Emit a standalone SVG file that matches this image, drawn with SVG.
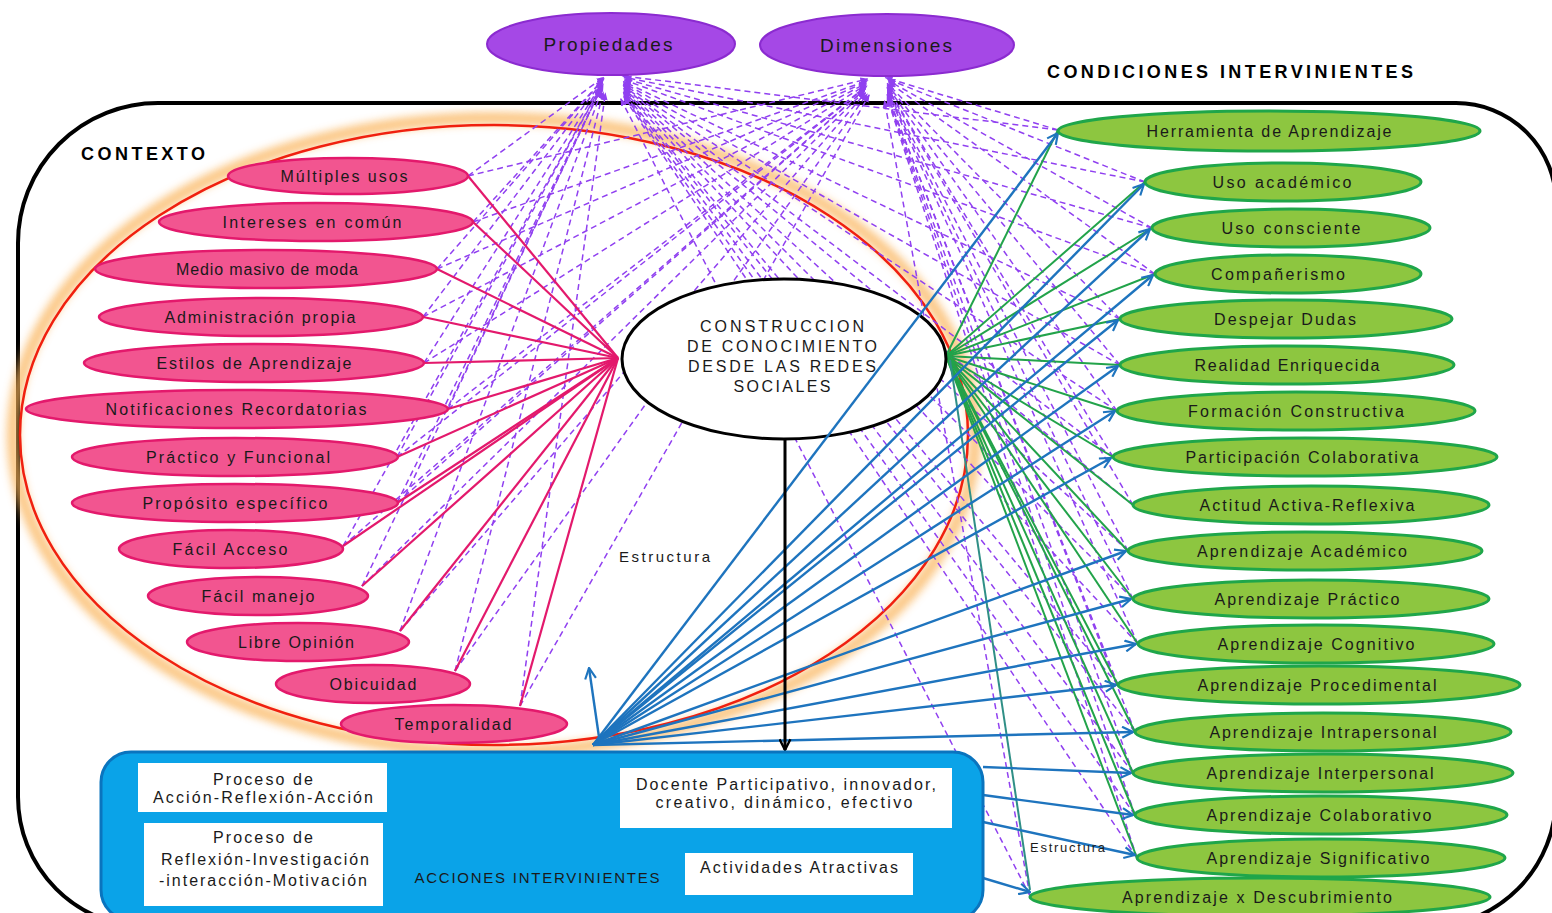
<svg xmlns="http://www.w3.org/2000/svg" width="1552" height="913" viewBox="0 0 1552 913">
<style>
.t{font-family:"Liberation Sans",Arial,sans-serif;font-size:16px;fill:#1a1a1a;text-anchor:middle}
.pk{fill:#F25590;stroke:#E3196C;stroke-width:2.5}
.gr{fill:#8DC640;stroke:#1FA64A;stroke-width:3}
.pu{fill:#A548E6;stroke:#8B2BD0;stroke-width:2}
.wb{fill:#ffffff}
.pl{stroke:#E3196C;stroke-width:2.2;fill:none}
.gl{stroke:#22A34A;stroke-width:2;fill:none}
.bl{stroke:#1E74BE;stroke-width:2.4;fill:none;marker-end:url(#ab)}
.dl{stroke:#9040F0;stroke-width:1.5;fill:none;stroke-dasharray:6 4;marker-end:url(#ap)}
</style>
<defs>
<marker id="ab" viewBox="0 0 12 12" refX="11" refY="6" markerWidth="13" markerHeight="13" markerUnits="userSpaceOnUse" orient="auto"><path d="M1,1 L11,6 L1,11" fill="none" stroke="#1E74BE" stroke-width="2"/></marker>
<marker id="ap" viewBox="0 0 10 10" refX="9" refY="5" markerWidth="8" markerHeight="8" markerUnits="userSpaceOnUse" orient="auto"><path d="M0,1 L10,5 L0,9 z" fill="#9040F0"/></marker>
<marker id="ak" viewBox="0 0 12 12" refX="11" refY="6" markerWidth="13" markerHeight="13" markerUnits="userSpaceOnUse" orient="auto"><path d="M1,1 L11,6 L1,11" fill="none" stroke="#000" stroke-width="2.2"/></marker>
<filter id="blur" x="-10%" y="-10%" width="120%" height="120%"><feGaussianBlur stdDeviation="4"/></filter>
</defs>
<rect width="1552" height="913" fill="#ffffff"/>
<path d="M158,103 H1456 A100,100 0 0 1 1556,203 V797 A130,130 0 0 1 1426,927 H148 A130,130 0 0 1 18,797 V243 A140,140 0 0 1 158,103 Z" fill="none" stroke="#000" stroke-width="4"/>
<ellipse cx="494" cy="435" rx="481" ry="317" fill="none" stroke="#FAB45A" stroke-width="12" opacity="0.75" filter="url(#blur)"/>
<ellipse cx="494" cy="435" rx="474" ry="310" fill="none" stroke="#F0200F" stroke-width="2.5"/>
<text x="81" y="160" style="font-family:'Liberation Sans',Arial,sans-serif;font-size:18px;font-weight:bold;fill:#000" textLength="124">CONTEXTO</text>
<text x="1047" y="78" style="font-family:'Liberation Sans',Arial,sans-serif;font-size:18px;font-weight:bold;fill:#000" textLength="366">CONDICIONES  INTERVINIENTES</text>
<g id="connectors">
<g id="dashed">
<path class="dl" d="M468,176 L603.8,77.1"/><path class="dl" d="M473,222 L604,78.4"/><path class="dl" d="M437,269 L602.9,79.9"/><path class="dl" d="M423,317 L602.5,81.3"/><path class="dl" d="M424,363 L602.5,82.7"/><path class="dl" d="M448,409 L603.2,84"/><path class="dl" d="M397,457 L601.7,85.5"/><path class="dl" d="M397,503 L601.7,86.9"/><path class="dl" d="M343,546 L600,88.2"/><path class="dl" d="M362,586 L600.6,89.4"/><path class="dl" d="M400,631 L601.8,90.7"/><path class="dl" d="M455,671 L603.4,91.9"/><path class="dl" d="M520,706 L605.4,93"/>
<path class="dl" d="M1058,130 L621.5,75.7"/><path class="dl" d="M1145,182 L624.1,77.2"/><path class="dl" d="M1152,228 L624.3,78.6"/><path class="dl" d="M1155,274 L624.4,80"/><path class="dl" d="M1120,319 L623.4,81.4"/><path class="dl" d="M1120,365 L623.4,82.7"/><path class="dl" d="M1117,411 L623.3,84.1"/><path class="dl" d="M1113,457 L623.2,85.5"/><path class="dl" d="M1133,505 L623.8,86.9"/><path class="dl" d="M1128,551 L623.6,88.3"/><path class="dl" d="M1133,599 L623.8,89.8"/><path class="dl" d="M1138,644 L623.9,91.1"/><path class="dl" d="M1118,685 L623.3,92.3"/><path class="dl" d="M1135,732 L623.8,93.7"/><path class="dl" d="M1133,773 L623.8,95"/><path class="dl" d="M1135,815 L623.8,96.2"/><path class="dl" d="M1137,858 L623.9,97.5"/><path class="dl" d="M1030,896 L620.7,98.7"/>
<path class="dl" d="M468,176 L867.6,79"/><path class="dl" d="M473,222 L867.8,80.4"/><path class="dl" d="M437,269 L866.7,81.8"/><path class="dl" d="M423,317 L866.3,83.2"/><path class="dl" d="M424,363 L866.3,84.6"/><path class="dl" d="M448,409 L867,86"/><path class="dl" d="M397,457 L865.5,87.4"/><path class="dl" d="M397,503 L865.5,88.8"/><path class="dl" d="M343,546 L863.9,90.1"/><path class="dl" d="M362,586 L864.5,91.3"/><path class="dl" d="M400,631 L865.6,92.7"/><path class="dl" d="M455,671 L867.3,93.9"/><path class="dl" d="M520,706 L869.2,94.9"/>
<path class="dl" d="M1058,130 L885.3,77.6"/><path class="dl" d="M1145,182 L888,79.2"/><path class="dl" d="M1152,228 L888.2,80.6"/><path class="dl" d="M1155,274 L888.3,81.9"/><path class="dl" d="M1120,319 L887.2,83.3"/><path class="dl" d="M1120,365 L887.2,84.7"/><path class="dl" d="M1117,411 L887.1,86.1"/><path class="dl" d="M1113,457 L887,87.4"/><path class="dl" d="M1133,505 L887.6,88.9"/><path class="dl" d="M1128,551 L887.4,90.3"/><path class="dl" d="M1133,599 L887.6,91.7"/><path class="dl" d="M1138,644 L887.7,93"/><path class="dl" d="M1118,685 L887.1,94.3"/><path class="dl" d="M1135,732 L887.7,95.7"/><path class="dl" d="M1133,773 L887.6,96.9"/><path class="dl" d="M1135,815 L887.7,98.2"/><path class="dl" d="M1137,858 L887.7,99.5"/><path class="dl" d="M1030,896 L884.5,100.6"/>
</g>
<g id="pink-lines">
<path class="pl" d="M468,176 L618,358"/><path class="pl" d="M473,222 L618,358"/><path class="pl" d="M437,269 L618,358"/><path class="pl" d="M423,317 L618,358"/><path class="pl" d="M424,363 L618,358"/><path class="pl" d="M448,409 L618,358"/><path class="pl" d="M397,457 L618,358"/><path class="pl" d="M397,503 L618,358"/><path class="pl" d="M343,546 L618,358"/><path class="pl" d="M362,586 L618,358"/><path class="pl" d="M400,631 L618,358"/><path class="pl" d="M455,671 L618,358"/><path class="pl" d="M520,706 L618,358"/>
</g>
<g id="green-lines">
<path class="gl" d="M946,356 L1058,130"/><path class="gl" d="M946,356 L1145,182"/><path class="gl" d="M946,356 L1152,228"/><path class="gl" d="M946,356 L1155,274"/><path class="gl" d="M946,356 L1120,319"/><path class="gl" d="M946,356 L1120,365"/><path class="gl" d="M946,356 L1117,411"/><path class="gl" d="M946,356 L1113,457"/><path class="gl" d="M946,356 L1133,505"/><path class="gl" d="M946,356 L1128,551"/><path class="gl" d="M946,356 L1133,599"/><path class="gl" d="M946,356 L1138,644"/><path class="gl" d="M946,356 L1118,685"/><path class="gl" d="M946,356 L1135,732"/><path class="gl" d="M946,356 L1133,773"/><path class="gl" d="M946,356 L1135,815"/><path class="gl" d="M946,356 L1137,858"/><path d="M950,360 L1030,890" stroke="#2F8F86" stroke-width="2" fill="none"/>
</g>
</g>
<g id="n-centro"><ellipse cx="784" cy="359" rx="162" ry="80" fill="#fff" stroke="#000" stroke-width="3"/>
<text class="t" x="782" y="332" textLength="164">CONSTRUCCION</text>
<text class="t" x="782" y="352" textLength="190">DE CONOCIMIENTO</text>
<text class="t" x="782" y="372" textLength="188">DESDE LAS REDES</text>
<text class="t" x="782" y="392" textLength="97">SOCIALES</text></g>
<g id="blue-arrows">
<path class="bl" d="M593,745 L1058,133"/><path class="bl" d="M593,745 L1144,184"/><path class="bl" d="M593,745 L1150,229"/><path class="bl" d="M593,745 L1153,275"/><path class="bl" d="M593,745 L1118,320"/><path class="bl" d="M593,745 L1118,366"/><path class="bl" d="M593,745 L1115,411"/><path class="bl" d="M593,745 L1111,458"/><path class="bl" d="M593,745 L1126,551"/><path class="bl" d="M593,745 L1131,599"/><path class="bl" d="M593,745 L1136,644"/><path class="bl" d="M593,745 L1116,685"/><path class="bl" d="M593,745 L1133,732"/>
<path class="bl" d="M600,744 L589,668"/>
<path class="bl" d="M983,767 L1131,773"/><path class="bl" d="M983,795 L1133,815"/><path class="bl" d="M983,822 L1135,855"/><path class="bl" d="M983,878 L1030,892"/>
</g>
<path id="black-arrow" d="M785,440 L785,750" stroke="#000" stroke-width="3" fill="none" marker-end="url(#ak)"/>
<text class="t" x="619" y="562" style="text-anchor:start;font-size:15px" textLength="91">Estructura</text>
<text class="t" x="1030" y="852" style="text-anchor:start;font-size:13px" textLength="75">Estructura</text>
<g id="n-propiedades"><ellipse class="pu" cx="611" cy="44" rx="124" ry="31"/><text class="t" x="608" y="51" style="font-size:19px" textLength="129">Propiedades</text></g>
<g id="n-dimensiones"><ellipse class="pu" cx="887" cy="45" rx="127" ry="31"/><text class="t" x="886" y="52" style="font-size:19px" textLength="132">Dimensiones</text></g>
<g id="n-p1"><ellipse class="pk" cx="348" cy="176" rx="120" ry="18"/><text class="t" x="344" y="182" textLength="127">Múltiples usos</text></g>
<g id="n-p2"><ellipse class="pk" cx="316" cy="222" rx="157" ry="19"/><text class="t" x="312" y="228" textLength="179">Intereses en común</text></g>
<g id="n-p3"><ellipse class="pk" cx="266" cy="269" rx="171" ry="19"/><text class="t" x="267" y="275" textLength="182">Medio masivo de moda</text></g>
<g id="n-p4"><ellipse class="pk" cx="261" cy="317" rx="162" ry="19"/><text class="t" x="260" y="323" textLength="191">Administración propia</text></g>
<g id="n-p5"><ellipse class="pk" cx="254" cy="363" rx="170" ry="19"/><text class="t" x="254" y="369" textLength="195">Estilos de Aprendizaje</text></g>
<g id="n-p6"><ellipse class="pk" cx="237" cy="409" rx="211" ry="19"/><text class="t" x="236" y="415" textLength="261">Notificaciones Recordatorias</text></g>
<g id="n-p7"><ellipse class="pk" cx="235" cy="457" rx="163" ry="19"/><text class="t" x="238" y="463" textLength="184">Práctico y Funcional</text></g>
<g id="n-p8"><ellipse class="pk" cx="235" cy="503" rx="163" ry="19"/><text class="t" x="235" y="509" textLength="185">Propósito específico</text></g>
<g id="n-p9"><ellipse class="pk" cx="231" cy="549" rx="112" ry="19"/><text class="t" x="230" y="555" textLength="115">Fácil Acceso</text></g>
<g id="n-p10"><ellipse class="pk" cx="258" cy="596" rx="110" ry="19"/><text class="t" x="258" y="602" textLength="113">Fácil manejo</text></g>
<g id="n-p11"><ellipse class="pk" cx="298" cy="642" rx="111" ry="19"/><text class="t" x="296" y="648" textLength="116">Libre Opinión</text></g>
<g id="n-p12"><ellipse class="pk" cx="373" cy="684" rx="97" ry="19"/><text class="t" x="373" y="690" textLength="87">Obicuidad</text></g>
<g id="n-p13"><ellipse class="pk" cx="454" cy="724" rx="113" ry="19"/><text class="t" x="453" y="730" textLength="117">Temporalidad</text></g>
<g id="n-g1"><ellipse class="gr" cx="1269" cy="131" rx="211" ry="20"/><text class="t" x="1269" y="137" textLength="245">Herramienta de Aprendizaje</text></g>
<g id="n-g2"><ellipse class="gr" cx="1283" cy="182" rx="138" ry="19"/><text class="t" x="1282" y="188" textLength="139">Uso académico</text></g>
<g id="n-g3"><ellipse class="gr" cx="1291" cy="228" rx="139" ry="19"/><text class="t" x="1291" y="234" textLength="139">Uso consciente</text></g>
<g id="n-g4"><ellipse class="gr" cx="1288" cy="274" rx="133" ry="19"/><text class="t" x="1278" y="280" textLength="134">Compañerismo</text></g>
<g id="n-g5"><ellipse class="gr" cx="1286" cy="319" rx="166" ry="19"/><text class="t" x="1285" y="325" textLength="142">Despejar Dudas</text></g>
<g id="n-g6"><ellipse class="gr" cx="1287" cy="365" rx="167" ry="19"/><text class="t" x="1287" y="371" textLength="185">Realidad Enriquecida</text></g>
<g id="n-g7"><ellipse class="gr" cx="1296" cy="411" rx="179" ry="19"/><text class="t" x="1296" y="417" textLength="216">Formación Constructiva</text></g>
<g id="n-g8"><ellipse class="gr" cx="1305" cy="457" rx="192" ry="19"/><text class="t" x="1302" y="463" textLength="233">Participación Colaborativa</text></g>
<g id="n-g9"><ellipse class="gr" cx="1311" cy="505" rx="178" ry="19"/><text class="t" x="1307" y="511" textLength="215">Actitud Activa-Reflexiva</text></g>
<g id="n-g10"><ellipse class="gr" cx="1305" cy="551" rx="177" ry="19"/><text class="t" x="1302" y="557" textLength="210">Aprendizaje  Académico</text></g>
<g id="n-g11"><ellipse class="gr" cx="1311" cy="599" rx="178" ry="19"/><text class="t" x="1307" y="605" textLength="185">Aprendizaje  Práctico</text></g>
<g id="n-g12"><ellipse class="gr" cx="1316" cy="644" rx="178" ry="19"/><text class="t" x="1316" y="650" textLength="197">Aprendizaje  Cognitivo</text></g>
<g id="n-g13"><ellipse class="gr" cx="1319" cy="685" rx="201" ry="19"/><text class="t" x="1317" y="691" textLength="239">Aprendizaje  Procedimental</text></g>
<g id="n-g14"><ellipse class="gr" cx="1323" cy="732" rx="188" ry="19"/><text class="t" x="1323" y="738" textLength="227">Aprendizaje  Intrapersonal</text></g>
<g id="n-g15"><ellipse class="gr" cx="1323" cy="773" rx="190" ry="19"/><text class="t" x="1320" y="779" textLength="227">Aprendizaje  Interpersonal</text></g>
<g id="n-g16"><ellipse class="gr" cx="1321" cy="815" rx="186" ry="19"/><text class="t" x="1319" y="821" textLength="225">Aprendizaje  Colaborativo</text></g>
<g id="n-g17"><ellipse class="gr" cx="1321" cy="858" rx="184" ry="19"/><text class="t" x="1318" y="864" textLength="223">Aprendizaje  Significativo</text></g>
<g id="n-g18"><ellipse class="gr" cx="1260" cy="897" rx="230" ry="19"/><text class="t" x="1257" y="903" textLength="270">Aprendizaje  x  Descubrimiento</text></g>
<g id="n-acciones">
<rect x="101" y="752" width="882" height="168" rx="30" fill="#0AA3E8" stroke="#0A74BE" stroke-width="3"/>
<rect class="wb" x="138" y="763" width="249" height="49"/>
<text class="t" x="263" y="785" textLength="100">Proceso de</text>
<text class="t" x="263" y="803" textLength="220">Acción-Reflexión-Acción</text>
<rect class="wb" x="144" y="823" width="239" height="83"/>
<text class="t" x="263" y="843" textLength="100">Proceso de</text>
<text class="t" x="265" y="865" textLength="208">Reflexión-Investigación</text>
<text class="t" x="263" y="886" textLength="208">-interacción-Motivación</text>
<rect class="wb" x="620" y="768" width="332" height="60"/>
<text class="t" x="786" y="790" textLength="300">Docente Participativo, innovador,</text>
<text class="t" x="784" y="808" textLength="257">creativo, dinámico, efectivo</text>
<rect class="wb" x="685" y="853" width="228" height="42"/>
<text class="t" x="799" y="873" textLength="198">Actividades Atractivas</text>
<text class="t" x="537" y="883" style="font-size:15px" textLength="245">ACCIONES  INTERVINIENTES</text>
</g>
</svg>
